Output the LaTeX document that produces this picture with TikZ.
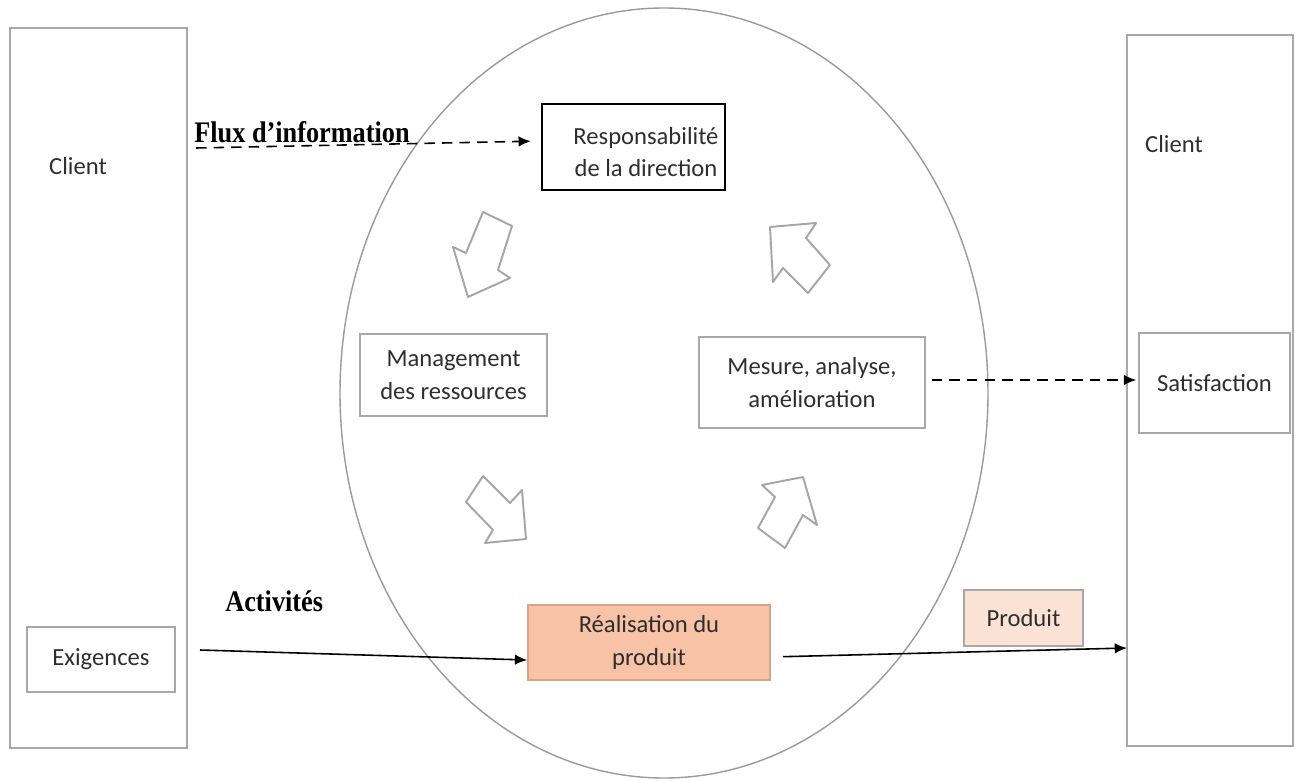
\documentclass[tikz,border=0pt]{standalone}
\usepackage{fontspec}
\setmainfont{Carlito}
\newfontfamily\timesbf{Liberation Serif}[BoldFont={* Bold}]
\usetikzlibrary{arrows.meta,calc,shapes.geometric}
\definecolor{frame}{HTML}{A8A8A8}
\definecolor{ring}{HTML}{9A9A9A}
\definecolor{realfill}{HTML}{F7C2A5}
\definecolor{realdraw}{HTML}{D8A488}
\definecolor{prodfill}{HTML}{FAE2D5}
\begin{document}
\begin{tikzpicture}[x=0.02cm,y=-0.02cm,
  txt/.style={font=\fontsize{14}{18.5}\selectfont,text=black!82,align=center},
  box/.style={draw=frame,line width=0.9pt,txt,inner sep=0pt},
  column/.style={draw=frame,line width=1.1pt,inner sep=0pt},
  label/.style={font=\timesbf\bfseries\fontsize{17}{20}\selectfont,xscale=0.88,inner sep=0pt},
  flow/.style={-{Latex[length=7pt,width=6pt]},line width=0.9pt},
  dflow/.style={flow,dash pattern=on 6pt off 4pt},
  hollow/.style={draw=black!35,line width=1.1pt,line join=round,fill=white}]
\useasboundingbox (0,0) rectangle (1303,781);

% central ellipse
\node[draw=ring,line width=0.8pt,ellipse,minimum width=648*0.02cm,minimum height=770*0.02cm,inner sep=0pt] (ring) at (664,393) {};

% client columns
\node[column,minimum width=177*0.02cm,minimum height=720*0.02cm] (clientL) at (98.5,388) {};
\node[column,minimum width=166*0.02cm,minimum height=711*0.02cm] (clientR) at (1210,390.5) {};
\node[txt] (clientLt) at (78,166) {Client};
\node[txt] (clientRt) at (1174,144) {Client};

\node[box,minimum width=148*0.02cm,minimum height=65*0.02cm] (exig) at (101,659.5) {Exigences};
\node[box,minimum width=151*0.02cm,minimum height=100*0.02cm] (satis) at (1214.5,383) {Satisfaction};

% process boxes
\node[draw=black,line width=1.3pt,inner sep=0pt,minimum width=183*0.02cm,minimum height=86*0.02cm] (resp) at (633.5,147) {};
\node[txt] (respt) at (646,152) {Responsabilité\\de la direction};
\node[box,minimum width=187*0.02cm,minimum height=82*0.02cm] (manag) at (453.5,375) {Management\\des ressources};
\node[box,minimum width=226*0.02cm,minimum height=91*0.02cm] (mesure) at (812,382.5) {Mesure, analyse,\\amélioration};
\node[box,draw=realdraw,fill=realfill,minimum width=242*0.02cm,minimum height=75*0.02cm] (real) at (649,642.5) {Réalisation du\\produit};
\node[box,fill=prodfill,minimum width=119*0.02cm,minimum height=56*0.02cm] (prod) at (1023.5,618) {Produit};

% side labels
\node[label,anchor=west] (flux) at (194,132) {Flux d’information};
\node[label,anchor=west] (activ) at (225,601) {Activités};

% connectors
\coordinate (fluxstart) at (196,148);
\coordinate (activstart) at (200,650);
\coordinate (prodend) at (1127,648);
\draw[dflow,shorten >=10*0.02cm] (fluxstart) -- (resp.west |- 0,141);
\draw[dflow,shorten <=6*0.02cm,shorten >=2*0.02cm] (mesure.east |- 0,380) -- (satis.west |- 0,380);
\draw[flow] (activstart) -- (real.west |- 0,660);
\draw[flow,shorten <=12*0.02cm] (real.east |- 0,657) -- (prodend);

% hollow cycle arrows
\draw[hollow] (483,212) -- (512,226) -- (498,270) -- (510,278) -- (468,297) -- (453,247) -- (466,253) -- cycle;
\draw[hollow] (770,227) -- (816,223) -- (806,238) -- (830,265) -- (808,293) -- (783,268) -- (773,282) -- cycle;
\draw[hollow] (483,476) -- (510,503) -- (522,490) -- (526,539) -- (485,543) -- (493,530) -- (466,502) -- cycle;
\draw[hollow] (803,477) -- (762,485) -- (775,497) -- (758,528) -- (785,548) -- (803,515) -- (817,525) -- cycle;
\end{tikzpicture}
\end{document}
